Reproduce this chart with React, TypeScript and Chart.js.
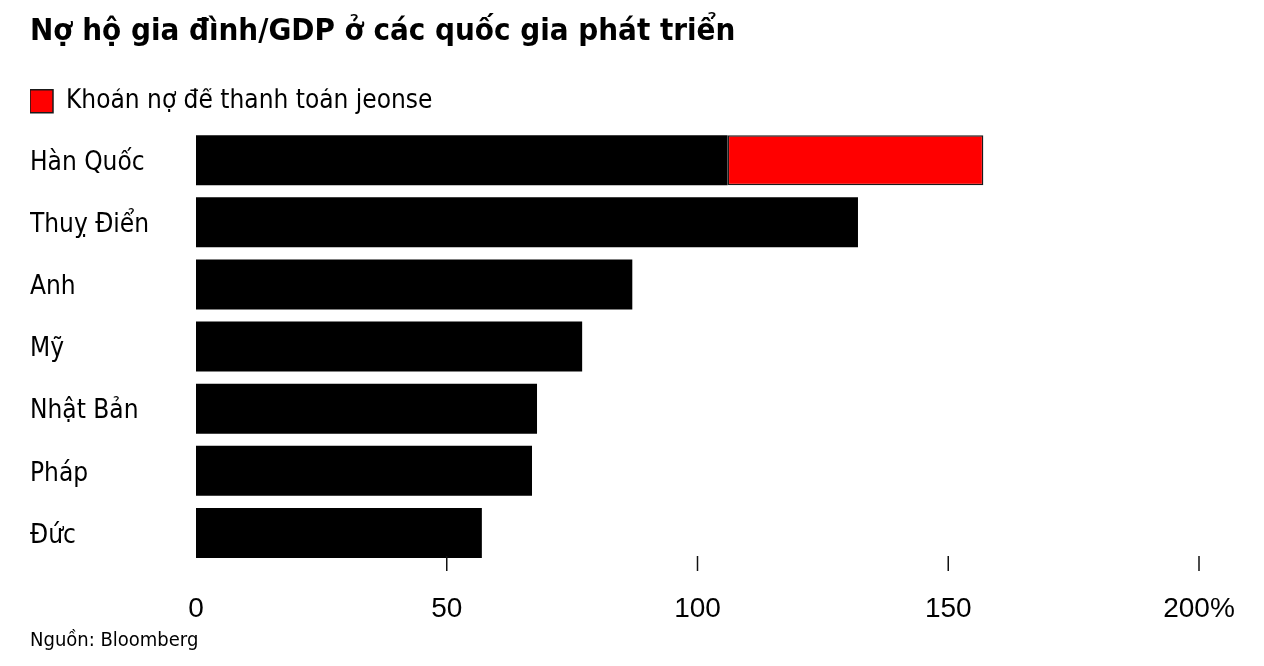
import React, { useEffect, useRef } from "react";
import { Chart, registerables } from "chart.js";

Chart.register(...registerables);

const categories = ["Hàn Quốc", "Thuỵ Điển", "Anh", "Mỹ", "Nhật Bản", "Pháp", "Đức"];
const householdDebt = [106, 132, 87, 77, 68, 67, 57];
const jeonseDebt = [51, null, null, null, null, null, null];
const xTicks = [0, 50, 100, 150, 200];
const titleText = "Nợ hộ gia đình/GDP ở các quốc gia phát triển";
const baseLabel = "Nợ hộ gia đình";
const legendText = "Khoản nợ để thanh toán jeonse";
const sourceText = "Nguồn: Bloomberg";

const CONDENSED =
  "'Liberation Sans Narrow', 'DejaVu Sans Condensed', 'Roboto Condensed', 'Noto Sans', sans-serif";
const SANS = "'Liberation Sans', Arial, Helvetica, sans-serif";

const tickMarks = {
  id: "tickMarks",
  afterDatasetsDraw(chart: any) {
    const { ctx, chartArea, scales } = chart;
    const xs = scales.x;
    ctx.save();
    ctx.strokeStyle = "#111";
    ctx.lineWidth = 1.5;
    xTicks.forEach((v) => {
      if (v === 0) return;
      const px = xs.getPixelForValue(v);
      ctx.beginPath();
      ctx.moveTo(px, chartArea.bottom - 8);
      ctx.lineTo(px, chartArea.bottom + 7);
      ctx.stroke();
    });
    ctx.restore();
  },
};

export default function App() {
  const ref = useRef<HTMLCanvasElement | null>(null);

  useEffect(() => {
    if (!ref.current) return;
    const chart = new Chart(ref.current, {
      type: "bar",
      data: {
        labels: categories,
        datasets: [
          {
            label: baseLabel,
            data: householdDebt,
            backgroundColor: "#000000",
            borderWidth: 0,
            categoryPercentage: 1,
            barPercentage: 0.805,
          },
          {
            label: legendText,
            data: jeonseDebt as any,
            backgroundColor: "#ff0000",
            borderColor: "#1a1a1a",
            borderWidth: 1.5,
            borderSkipped: false,
            categoryPercentage: 1,
            barPercentage: 0.805,
          },
        ],
      },
      options: {
        indexAxis: "y",
        animation: false,
        responsive: true,
        maintainAspectRatio: false,
        layout: { padding: { left: 30, right: 65, top: 0, bottom: 0 } },
        scales: {
          x: {
            type: "linear",
            position: "bottom",
            stacked: true,
            min: 0,
            max: 200,
            grid: { display: false, drawTicks: false },
            border: { display: false },
            ticks: {
              stepSize: 50,
              padding: 28,
              color: "#000",
              font: { family: SANS, size: 28 },
              callback: (v: any) => (Number(v) === 200 ? "200%" : String(v)),
            },
            afterFit: (s: any) => {
              s.height = 63;
            },
          },
          x2: {
            type: "linear",
            position: "top",
            display: true,
            grid: { display: false, drawTicks: false },
            border: { display: false },
            ticks: { display: false },
            afterFit: (s: any) => {
              s.height = 5;
            },
          },
          y: {
            type: "category",
            position: "left",
            stacked: true,
            grid: { display: false, drawTicks: false },
            border: { display: false },
            ticks: {
              crossAlign: "far",
              padding: 0,
              labelOffset: 3,
              color: "#000",
              font: { family: CONDENSED, size: 26 },
            },
            afterFit: (s: any) => {
              s.width = 166;
            },
          },
        },
        plugins: {
          title: {
            display: true,
            text: titleText,
            align: "start",
            color: "#000",
            font: { family: CONDENSED, size: 31, weight: "bold" },
            padding: { top: 13, bottom: 38 },
          },
          legend: {
            display: true,
            position: "top",
            align: "start",
            labels: {
              filter: (item: any) => item.datasetIndex === 1,
              boxWidth: 23,
              boxHeight: 23,
              padding: 0,
              color: "#000",
              font: { family: CONDENSED, size: 26 },
            },
          },
          subtitle: {
            display: true,
            text: sourceText,
            position: "bottom",
            align: "start",
            color: "#000",
            font: { family: CONDENSED, size: 20 },
            padding: { top: 2, bottom: 13 },
          },
          tooltip: { enabled: false },
        },
      },
      plugins: [tickMarks],
    });
    return () => chart.destroy();
  }, []);

  return (
    <div style={{ position: "fixed", left: 0, top: 0, width: 1264, height: 666, background: "#fff" }}>
      <canvas ref={ref} />
    </div>
  );
}
